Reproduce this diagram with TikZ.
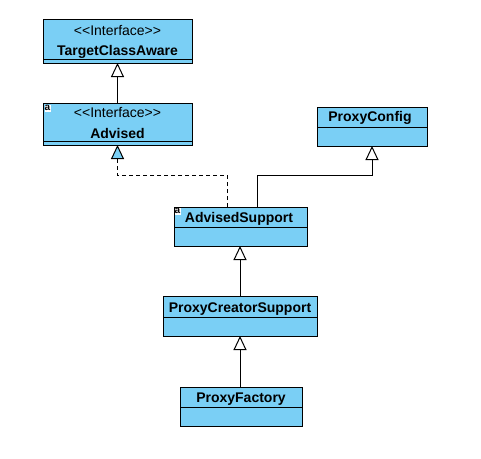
\documentclass[tikz,border=0pt]{standalone}
\usepackage{fontspec}
\setmainfont{Liberation Sans}
\usetikzlibrary{arrows.meta, positioning}
\definecolor{umlblue}{RGB}{122,207,245}

\begin{document}
\begin{tikzpicture}[x=1pt, y=-1pt]
        % Setup the style for the classes
        \tikzset{class style/.style={draw=black,
                                     fill=umlblue,
                                     line width=1pt,
                                     inner sep=0pt,
                                     outer sep=0pt}}
        \tikzset{name style/.style={font=\fontsize{14}{16}\selectfont\bfseries,
                                    inner sep=0pt,
                                    text height=10pt,
                                    text depth=0pt}}
        \tikzset{stereo style/.style={font=\fontsize{14}{16}\selectfont,
                                      inner sep=0pt,
                                      text height=10pt,
                                      text depth=0pt}}
        \tikzset{abstract style/.style={fill=white,
                                        inner sep=0pt,
                                        minimum width=6pt,
                                        minimum height=7pt,
                                        text height=5pt,
                                        text depth=0pt,
                                        font=\fontsize{10}{10}\selectfont\bfseries}}
        \tikzset{extends/.style={-{Triangle[open, width=13pt, length=14pt]},
                                 line width=1pt}}
        \tikzset{realizes/.style={-{Triangle[width=13pt, length=14pt, fill=umlblue]},
                                  line width=1pt,
                                  dash pattern=on 4pt off 3pt}}

        \useasboundingbox (0,0) rectangle (481,458);

        % Draw the classes
        \node[class style, minimum width=149pt, minimum height=44pt] at (117.5,41)  (targetaware) {};
        \node[class style, minimum width=149pt, minimum height=42pt] at (117.5,124) (advised)     {};
        \node[class style, minimum width=110pt, minimum height=39pt] at (372,126.5) (proxycfg)    {};
        \node[class style, minimum width=133pt, minimum height=39pt] at (240.5,226.5) (advsupport) {};
        \node[class style, minimum width=154pt, minimum height=40pt] at (240,316)   (creator)     {};
        \node[class style, minimum width=122pt, minimum height=39pt] at (241,406.5) (factory)     {};

        % Compartment lines
        \draw[line width=1pt] ([yshift=4pt]targetaware.south west) -- ([yshift=4pt]targetaware.south east);
        \draw[line width=1pt] ([yshift=4pt]advised.south west) -- ([yshift=4pt]advised.south east);
        \draw[line width=1pt] ([yshift=19pt]proxycfg.south west) -- ([yshift=19pt]proxycfg.south east);
        \draw[line width=1pt] ([yshift=19pt]advsupport.south west) -- ([yshift=19pt]advsupport.south east);
        \draw[line width=1pt] ([yshift=19pt]creator.south west) -- ([yshift=19pt]creator.south east);
        \draw[line width=1pt] ([yshift=19pt]factory.south west) -- ([yshift=19pt]factory.south east);

        % Class names
        \node[stereo style] at (117.5,30.7) (targetaware-st) {<{}<Interface>{}>};
        \node[name style]   at (117.5,50)   (targetaware-nm) {TargetClassAware};
        \node[stereo style] at (117.5,112.3) (advised-st)    {<{}<Interface>{}>};
        \node[name style]   at (117.5,133.3) (advised-nm)    {Advised};
        \node[name style]   at (370,116.7)  (proxycfg-nm)    {ProxyConfig};
        \node[name style]   at (239,217.7)  (advsupport-nm)  {AdvisedSupport};
        \node[name style]   at (240,307.7)  (creator-nm)     {ProxyCreatorSupport};
        \node[name style]   at (241,397.7)  (factory-nm)     {ProxyFactory};

        % Abstract markers
        \node[abstract style] at (47.5,108)  (advised-ab)    {a};
        \node[abstract style] at (177.5,211) (advsupport-ab) {a};

        % Connect the classes with arrows
        \draw[extends] (advised) -- (targetaware);
        \draw[realizes] ([xshift=-13.5pt]advsupport.north) |- ([yshift=-30pt]advised.south) -- (advised.south);
        \draw[extends] ([xshift=16.5pt]advsupport.north) |- ([yshift=-29pt]proxycfg.south) -- (proxycfg.south);
        \draw[extends] (creator.north) -- (creator.north |- advsupport.south);
        \draw[extends] (factory.north -| creator.north) -- (creator.south);
\end{tikzpicture}
\end{document}
